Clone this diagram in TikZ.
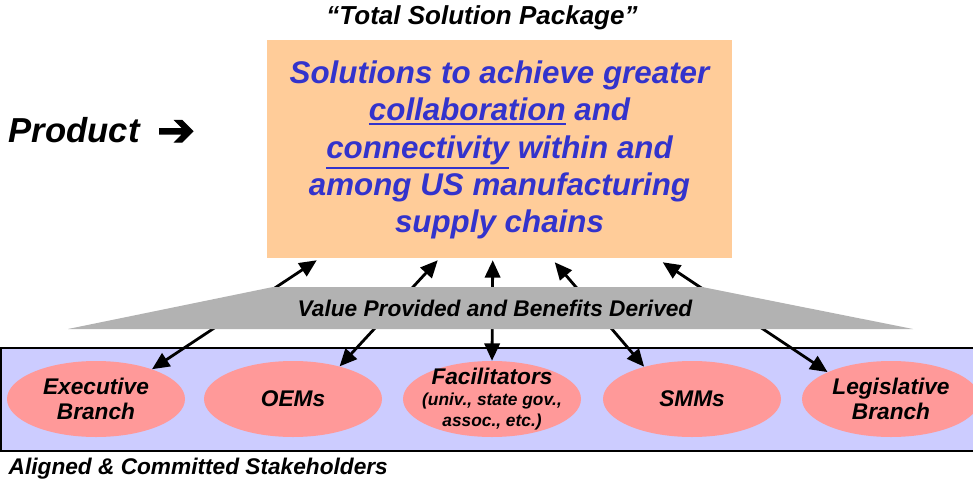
\documentclass[tikz,border=0pt]{standalone}
\usepackage{fontspec}
\setmainfont{Liberation Sans}
\newfontfamily\symfont[FakeBold=2.5]{DejaVu Sans}
\usetikzlibrary{shapes.geometric,arrows.meta,calc}
\definecolor{boxorange}{HTML}{FFCC99}
\definecolor{textblue}{HTML}{3333CC}
\definecolor{bandgray}{HTML}{B2B2B2}
\definecolor{stakeblue}{HTML}{CCCCFF}
\definecolor{stakepink}{HTML}{FF9999}
\tikzset{
  bi/.style={font=\bfseries\itshape},
  stake/.style={ellipse, fill=stakepink, minimum width=133.5pt, minimum height=57pt,
    inner sep=0pt, align=center, font=\bfseries\itshape\fontsize{17}{19}\selectfont},
  link/.style={line width=2.1pt, {Triangle[length=13pt,width=11.5pt]}-{Triangle[length=13pt,width=11.5pt]}}
}
% thicker underline set a little below the baseline
\newcommand{\uword}[1]{\leavevmode\vtop{\hbox{#1}\kern1.6pt\hrule height 1.5pt}}
\begin{document}
\begin{tikzpicture}[x=0.75pt,y=-0.75pt]
\clip (0,0) rectangle (973,485);
\fill[white] (0,0) rectangle (973,485);

% title and product label
\node[bi, font=\bfseries\itshape\fontsize{19.5}{22}\selectfont] (title) at (482,18) {“Total Solution Package”};
\node[bi, anchor=west, font=\bfseries\itshape\fontsize{26}{28}\selectfont] (product) at (4,130) {Product};
\node[font=\symfont\fontsize{34}{34}\selectfont] (parrow) at (176,133) {➔};

% the product box
\node[fill=boxorange, minimum width=348.75pt, minimum height=163.5pt, inner sep=0pt] (box) at (499.5,149) {};
\node[text=textblue, align=center, font=\bfseries\itshape\fontsize{23.5}{28}\selectfont] (boxtext) at (499.5,150)
  {Solutions to achieve greater\\ \uword{collaboration} and\\ \uword{connectivity} within and\\ among US manufacturing\\ supply chains};

% stakeholder band
\draw[fill=stakeblue, line width=0.8pt] (1,348) rectangle (990,451);
\node[stake] (exec) at (96,399) {Executive\\Branch};
\node[stake] (oem) at (293,399) {OEMs};
\node[stake, inner sep=-7pt] (fac) at (492,399) {Facilitators\\[-3pt]{\fontsize{13}{14}\selectfont(univ., state gov.,}\\[-3pt]{\fontsize{13}{14}\selectfont assoc., etc.)}};
\node[stake] (smm) at (692,399) {SMMs};
\node[stake] (leg) at (891,399) {Legislative\\Branch};

% attachment points on the bottom edge of the box
\coordinate (t1) at ($(box.south west)+(50,2)$);
\coordinate (t2) at ($(box.south west)+(171,2)$);
\coordinate (t3) at ($(box.south west)+(226,2)$);
\coordinate (t4) at ($(box.south west)+(288,4)$);
\coordinate (t5) at ($(box.south west)+(396,4)$);

% value exchange arrows
\draw[link] (exec.28) -- (t1);
\draw[link] (oem.35) -- (t2);
\draw[link] (fac.north) -- (t3);
\draw[link] (smm.146) -- (t4);
\draw[link] (leg.157) -- (t5);

% value band over the arrows
\fill[bandgray] (273,287) -- (702,287) -- (913,329) -- (68,329) -- cycle;
\node[bi, font=\bfseries\itshape\fontsize{17}{19}\selectfont] (value) at (495,308) {Value Provided and Benefits Derived};

\node[bi, anchor=west, font=\bfseries\itshape\fontsize{17}{19}\selectfont] (aligned) at (4,469) {Aligned \& Committed Stakeholders};
\end{tikzpicture}
\end{document}
